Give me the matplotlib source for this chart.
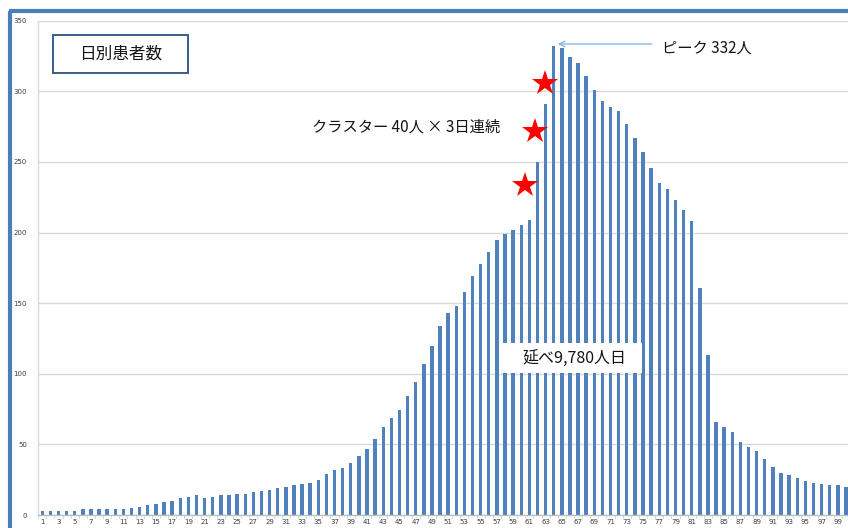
import matplotlib
matplotlib.use("Agg")
import matplotlib.pyplot as plt
from matplotlib.lines import Line2D
from matplotlib.patches import Rectangle

plt.rcParams['font.family'] = ['Noto Sans CJK JP', 'DejaVu Sans']

# Daily patient counts, day 1 .. day 100
days = list(range(1, 101))
patients = [
    3, 3, 3, 3, 3, 4, 4, 4, 4, 4,
    4, 5, 6, 7, 8, 9, 10, 12, 13, 14,
    12, 13, 14, 14, 15, 15, 16, 17, 18, 19,
    20, 21, 22, 23, 25, 29, 32, 33, 37, 42,
    47, 54, 62, 69, 74, 84, 94, 107, 120, 134,
    143, 148, 158, 169, 178, 186, 195, 199, 202, 205,
    209, 250, 291, 332, 331, 324, 320, 311, 301, 293,
    289, 286, 277, 267, 257, 246, 235, 231, 223, 216,
    208, 161, 113, 66, 62, 59, 52, 48, 45, 40,
    34, 30, 28, 26, 24, 23, 22, 21, 21, 20,
]
tick_days = list(range(1, 101, 2))
y_ticks = [0, 50, 100, 150, 200, 250, 300, 350]

# Cluster markers (three consecutive days of ~40 new cases)
star_x = [60.5, 61.7, 62.9]
star_y = [234, 272, 306]

peak_value = max(patients)
peak_day = days[patients.index(peak_value)]
total_patient_days = sum(patients)

bar_color = '#4F81BD'
frame_color = '#4A7EBB'
text_color = '#141414'

fig = plt.figure(figsize=(8.48, 5.28), dpi=100)
W, H = 848, 528

ax = fig.add_axes([38.2 / W, (H - 515) / H, (850 - 38.2) / W, (515 - 20.7) / H])
ax.bar(days, patients, width=0.42, color=bar_color, zorder=2)

ax.set_xlim(0.5, 100.5)
ax.set_ylim(0, 350)
ax.set_yticks(y_ticks)
ax.set_yticklabels([str(v) for v in y_ticks], fontsize=5, color='#404040',
                   family='DejaVu Sans')
ax.set_xticks(tick_days)
ax.set_xticklabels([str(d) for d in tick_days], fontsize=5, color='#404040',
                   family='DejaVu Sans')
ax.tick_params(axis='y', length=0, pad=8)
ax.tick_params(axis='x', length=0, pad=3)
# small tick marks between categories on the category axis
for b in range(0, 101):
    ax.plot([b + 0.5, b + 0.5], [0, -2.2], color='#D0D0D0', lw=0.6,
            clip_on=False, zorder=1)

ax.grid(axis='y', color='#D9D9D9', lw=1, zorder=0)
for s in ['top', 'right']:
    ax.spines[s].set_visible(False)
ax.spines['left'].set_color('#D9D9D9')
ax.spines['bottom'].set_color('#BFBFBF')
ax.spines['left'].set_linewidth(1)
ax.spines['bottom'].set_linewidth(1)

# Title box
ax.add_patch(Rectangle((2.32, 313.2), 18.94 - 2.32, 340.1 - 313.2,
                       facecolor='white', edgecolor='#385D8A', lw=1.4,
                       zorder=4))
ax.text(10.63, 326.6, '日別患者数', fontsize=12, ha='center', va='center',
        color=text_color, zorder=5)

# Cluster note and stars
ax.text(34.2, 275, 'クラスター 40人 × 3日連続', fontsize=11, ha='left',
        va='center', color=text_color, zorder=5)
ax.plot(star_x, star_y, linestyle='none', marker='*', ms=19, color='#FF0000',
        markeredgewidth=0, zorder=6)

# Peak annotation
ax.annotate('', xy=(peak_day + 0.5, peak_value + 1.5),
            xytext=(76.1, peak_value + 1.5),
            arrowprops=dict(arrowstyle='->', color='#8EB4E3', lw=1,
                            shrinkA=0, shrinkB=0), zorder=5)
ax.text(77.3, 330.4, f'ピーク {peak_value}人', fontsize=11, ha='left',
        va='center', color=text_color, zorder=5)

# Total patient-days
ax.add_patch(Rectangle((57.74, 100.4), 74.86 - 57.74, 121.8 - 100.4,
                       facecolor='white', edgecolor='none', zorder=4))
ax.text(66.5, 111.2, f'延べ{total_patient_days:,}人日', fontsize=11.5,
        ha='center', va='center', color=text_color, zorder=5)

# Outer blue frame (left and top edges)
fig.add_artist(Line2D([10 / W, 10 / W], [0, 1 - 11 / H], color=frame_color,
                      lw=3, transform=fig.transFigure, solid_capstyle='butt'))
fig.add_artist(Line2D([8.5 / W, 1], [1 - 11 / H, 1 - 11 / H], color=frame_color,
                      lw=3, transform=fig.transFigure, solid_capstyle='butt'))

fig.savefig('out.png', dpi=100, facecolor='white')
